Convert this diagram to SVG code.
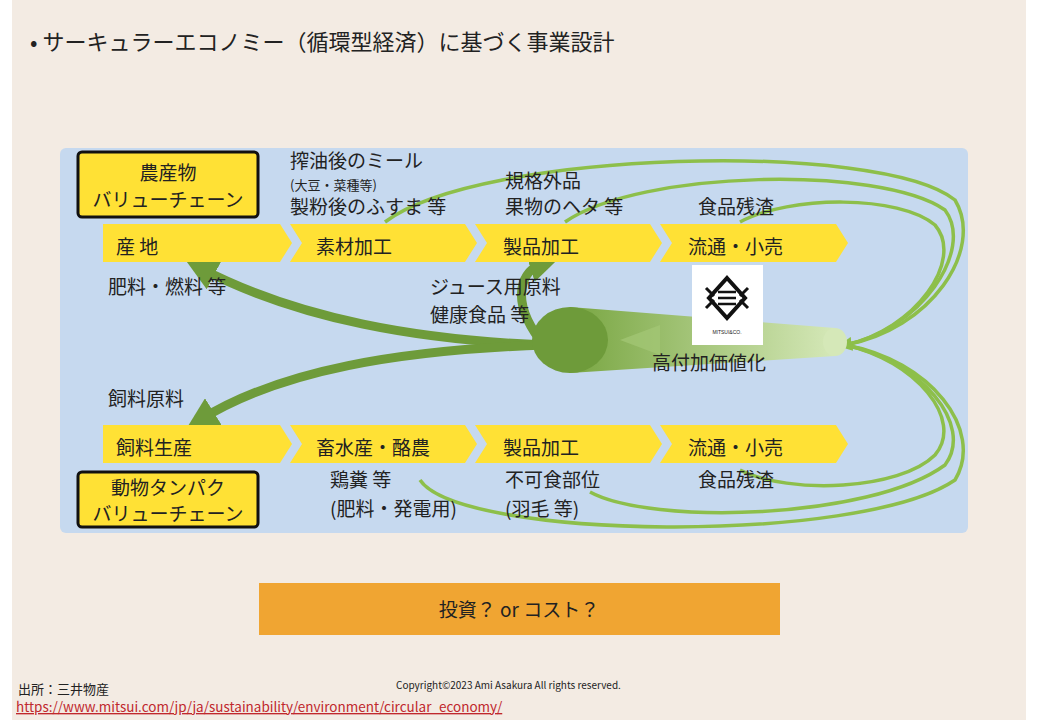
<svg xmlns="http://www.w3.org/2000/svg" width="1040" height="720" viewBox="0 0 1040 720">
<defs>
<style>
text{font-family:"Noto Sans CJK JP","Liberation Sans",sans-serif;fill:#222}
.t{font-size:19px}
.c{fill:#ffe135}
.g{fill:none;stroke:#8dbf4a;stroke-width:3.5}
.gd{fill:none;stroke:#6e9b3a;stroke-width:9}
</style>
<marker id="ah" viewBox="0 0 10 10" refX="5" refY="5" markerWidth="4" markerHeight="4" orient="auto"><path d="M0,0L10,5L0,10z" fill="#8dbf4a"/></marker>
<marker id="ahd" viewBox="0 0 10 10" refX="5" refY="5" markerWidth="3.5" markerHeight="3.5" orient="auto"><path d="M0,0L10,5L0,10z" fill="#6e9b3a"/></marker>
<linearGradient id="cone" x1="0" x2="1" y1="0" y2="0"><stop offset="0" stop-color="#79a642"/><stop offset="1" stop-color="#d5e8b8"/></linearGradient>
</defs>
<rect width="1040" height="720" fill="#fff"/>
<rect x="12" y="0" width="1014" height="720" fill="#f3ebe3"/>
<text x="30" y="50" style="font-size:22px">•  サーキュラーエコノミー（循環型経済）に基づく事業設計</text>
<rect x="60" y="148" width="908" height="385" rx="6" fill="#c6d9ef"/>
<g id="connectors">
<path class="g" d="M385,222 C480,150 880,140 955,200 C985,250 930,330 845,345" marker-end="url(#ah)"/>
<path class="g" d="M565,222 C640,170 880,165 945,210 C975,250 920,330 845,345"/>
<path class="g" d="M740,222 C790,195 900,195 935,225 C965,260 915,330 845,345"/>
<path class="g" d="M420,480 C460,540 860,545 955,480 C985,430 930,360 845,345"/>
<path class="g" d="M590,492 C650,525 870,520 945,465 C975,425 920,360 845,345"/>
<path class="g" d="M740,470 C790,495 900,490 935,455 C965,420 915,360 845,345"/>
<path class="gd" d="M545,345 C420,340 300,320 200,268" marker-end="url(#ahd)"/>
<path class="gd" d="M545,345 C400,350 280,370 200,420" marker-end="url(#ahd)"/>
<path class="gd" d="M540,340 C510,300 520,270 545,262" marker-end="url(#ahd)"/>
</g>
<g id="cylinder">
<path d="M570,307 L835,328 L835,356 L570,373z" fill="url(#cone)"/>
<ellipse cx="835" cy="342" rx="12" ry="14" fill="#d5e8b8"/>
<ellipse cx="570" cy="340" rx="38" ry="33" fill="#6e9b3a"/>
<path d="M620,340 L660,325 L660,355z" fill="#a4c876" opacity="0.7"/>
</g>
<g id="logo">
<rect x="692" y="265" width="71" height="80" fill="#fff"/>
<path d="M727,278 L745,298 L727,318 L709,298z" fill="none" stroke="#111" stroke-width="4"/>
<path d="M718,292h18M718,298h18M718,304h18" stroke="#111" stroke-width="2.5"/>
<path d="M706,288l8,8M748,288l-8,8M706,308l8,-8M748,308l-8,-8" stroke="#111" stroke-width="3"/>
<text x="727" y="334" text-anchor="middle" style="font-size:5px;font-family:'Liberation Sans',sans-serif">MITSUI&amp;CO.</text>
</g>
<g id="labelTop"><rect x="78" y="152" width="180" height="65" rx="4" fill="#ffe135" stroke="#111" stroke-width="3"/>
<text x="168" y="180" text-anchor="middle" class="t">農産物</text><text x="168" y="207" text-anchor="middle" class="t">バリューチェーン</text></g>
<g id="labelBottom"><rect x="78" y="472" width="180" height="55" rx="4" fill="#ffe135" stroke="#111" stroke-width="3"/>
<text x="168" y="495" text-anchor="middle" class="t">動物タンパク</text><text x="168" y="521" text-anchor="middle" class="t">バリューチェーン</text></g>
<g id="top-chevrons">
<path class="c" d="M103,224H280L292,243L280,262H103z"/><path class="c" d="M290,224H465L477,243L465,262H290L302,243z"/>
<path class="c" d="M475,224H650L662,243L650,262H475L487,243z"/><path class="c" d="M660,224H836L848,243L836,262H660L672,243z"/>
<text x="116" y="254" class="t">産  地</text><text x="316" y="254" class="t">素材加工</text><text x="503" y="254" class="t">製品加工</text><text x="688" y="254" class="t">流通・小売</text>
</g>
<g id="bottom-chevrons">
<path class="c" d="M103,425H280L292,444L280,463H103z"/><path class="c" d="M290,425H465L477,444L465,463H290L302,444z"/>
<path class="c" d="M475,425H650L662,444L650,463H475L487,444z"/><path class="c" d="M660,425H836L848,444L836,463H660L672,444z"/>
<text x="116" y="455" class="t">飼料生産</text><text x="316" y="455" class="t">畜水産・酪農</text><text x="503" y="455" class="t">製品加工</text><text x="688" y="455" class="t">流通・小売</text>
</g>
<g id="texts">
<text x="290" y="168" class="t">搾油後のミール</text>
<text x="290" y="190" style="font-size:13px">(大豆・菜種等)</text>
<text x="290" y="214" class="t">製粉後のふすま 等</text>
<text x="505" y="188" class="t">規格外品</text><text x="505" y="214" class="t">果物のヘタ 等</text>
<text x="698" y="214" class="t">食品残渣</text>
<text x="108" y="294" class="t">肥料・燃料 等</text>
<text x="430" y="294" class="t">ジュース用原料</text><text x="430" y="322" class="t">健康食品 等</text>
<text x="652" y="370" class="t">高付加価値化</text>
<text x="108" y="406" class="t">飼料原料</text>
<text x="330" y="487" class="t">鶏糞 等</text><text x="330" y="516" class="t">(肥料・発電用)</text>
<text x="505" y="487" class="t">不可食部位</text><text x="505" y="516" class="t">(羽毛 等)</text>
<text x="698" y="487" class="t">食品残渣</text>
</g>
<g id="question"><rect x="259" y="583" width="521" height="52" fill="#f0a532"/>
<text x="519" y="617" text-anchor="middle" style="font-size:19px">投資？ or  コスト？</text></g>
<text x="18" y="694" style="font-size:13px">出所：三井物産</text>
<text x="396" y="689" style="font-size:10px">Copyright©2023 Ami Asakura All rights reserved.</text>
<text x="16" y="712" style="font-size:13.5px;fill:#c0282d;text-decoration:underline">https://www.mitsui.com/jp/ja/sustainability/environment/circular_economy/</text>
</svg>
